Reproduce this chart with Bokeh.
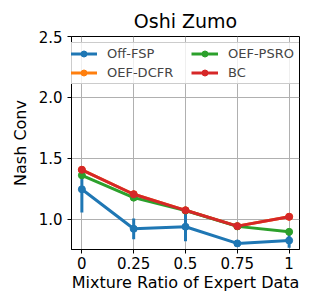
from bokeh.plotting import figure
from bokeh.models import ColumnDataSource, Legend, LegendItem, FixedTicker, Range1d
from bokeh.embed import file_html
from bokeh.resources import INLINE

ratios = [0, 0.25, 0.5, 0.75, 1]
tick_labels = {0: "0", 0.25: "0.25", 0.5: "0.5", 0.75: "0.75", 1: "1"}

off_fsp = [1.245, 0.92, 0.937, 0.80, 0.824]
off_fsp_err = [0.19, 0.085, 0.12, 0.01, 0.06]
oef_dcfr = [1.405, 1.204, 1.072, 0.942, 1.019]
oef_dcfr_err = [0.01, 0.01, 0.01, 0.01, 0.01]
oef_psro = [1.36, 1.176, 1.07, 0.94, 0.895]
oef_psro_err = [0.01, 0.01, 0.01, 0.01, 0.01]
bc = [1.405, 1.204, 1.072, 0.942, 1.019]
bc_err = [0.012, 0.012, 0.01, 0.01, 0.02]

series = [
    ("Off-FSP", off_fsp, off_fsp_err, "#1f77b4"),
    ("OEF-DCFR", oef_dcfr, oef_dcfr_err, "#ff7f0e"),
    ("OEF-PSRO", oef_psro, oef_psro_err, "#2ca02c"),
    ("BC", bc, bc_err, "#d62728"),
]

FONT = "DejaVu Sans"

p = figure(width=303, height=294, output_backend="svg", toolbar_location=None,
           x_range=Range1d(-0.05, 1.05), y_range=Range1d(0.75, 2.5),
           min_border_left=71, min_border_right=4, min_border_top=36, min_border_bottom=44)

p.title.text = "Oshi Zumo"
p.title.align = "center"
p.title.text_font = FONT
p.title.text_font_size = "19px"
p.title.text_font_style = "normal"
p.title.text_color = "black"

items = []
for name, vals, errs, color in series:
    src = ColumnDataSource(dict(x=ratios, y=vals,
                                lo=[v - e for v, e in zip(vals, errs)],
                                hi=[v + e for v, e in zip(vals, errs)]))
    seg = p.segment(x0="x", y0="lo", x1="x", y1="hi", source=src, line_color=color, line_width=3)
    ln = p.line("x", "y", source=src, line_color=color, line_width=3)
    sc = p.scatter("x", "y", source=src, size=7, fill_color=color, line_color=color)
    items.append(LegendItem(label=name, renderers=[ln, sc]))

legend = Legend(items=items, nrows=2, location=(-5, 165),
                label_text_font=FONT, label_text_font_size="13px",
                border_line_color="#cccccc", border_line_alpha=1.0,
                background_fill_alpha=0.8, glyph_width=27, label_standoff=10,
                label_width=80, spacing=4, padding=3, margin=0,
                label_height=15, glyph_height=15)
p.add_layout(legend, "center")

p.xaxis.ticker = FixedTicker(ticks=ratios)
p.xaxis.major_label_overrides = tick_labels
p.yaxis.ticker = FixedTicker(ticks=[1.0, 1.5, 2.0, 2.5])
p.yaxis.major_label_overrides = {1.0: "1.0", 1.5: "1.5", 2.0: "2.0", 2.5: "2.5"}
p.xaxis.axis_label = "Mixture Ratio of Expert Data"
p.yaxis.axis_label = "Nash Conv"
for ax in (p.xaxis, p.yaxis):
    ax.axis_label_text_font = FONT
    ax.axis_label_text_font_size = "16px"
    ax.axis_label_text_font_style = "normal"
    ax.major_label_text_font = FONT
    ax.major_label_text_font_size = "15px"
    ax.minor_tick_line_color = None
    ax.major_tick_out = 4
    ax.major_tick_in = 0
    ax.axis_line_color = "black"
    ax.major_tick_line_color = "black"
    ax.major_label_text_color = "black"
    ax.axis_label_text_color = "black"
p.xaxis.major_label_standoff = 3
p.xaxis.axis_label_standoff = 1
p.yaxis.axis_label_standoff = 6
p.xgrid.grid_line_color = "#b0b0b0"
p.ygrid.grid_line_color = "#b0b0b0"
p.outline_line_color = "black"
p.outline_line_alpha = 1.0

open("out.html", "w").write(file_html(p, INLINE))
